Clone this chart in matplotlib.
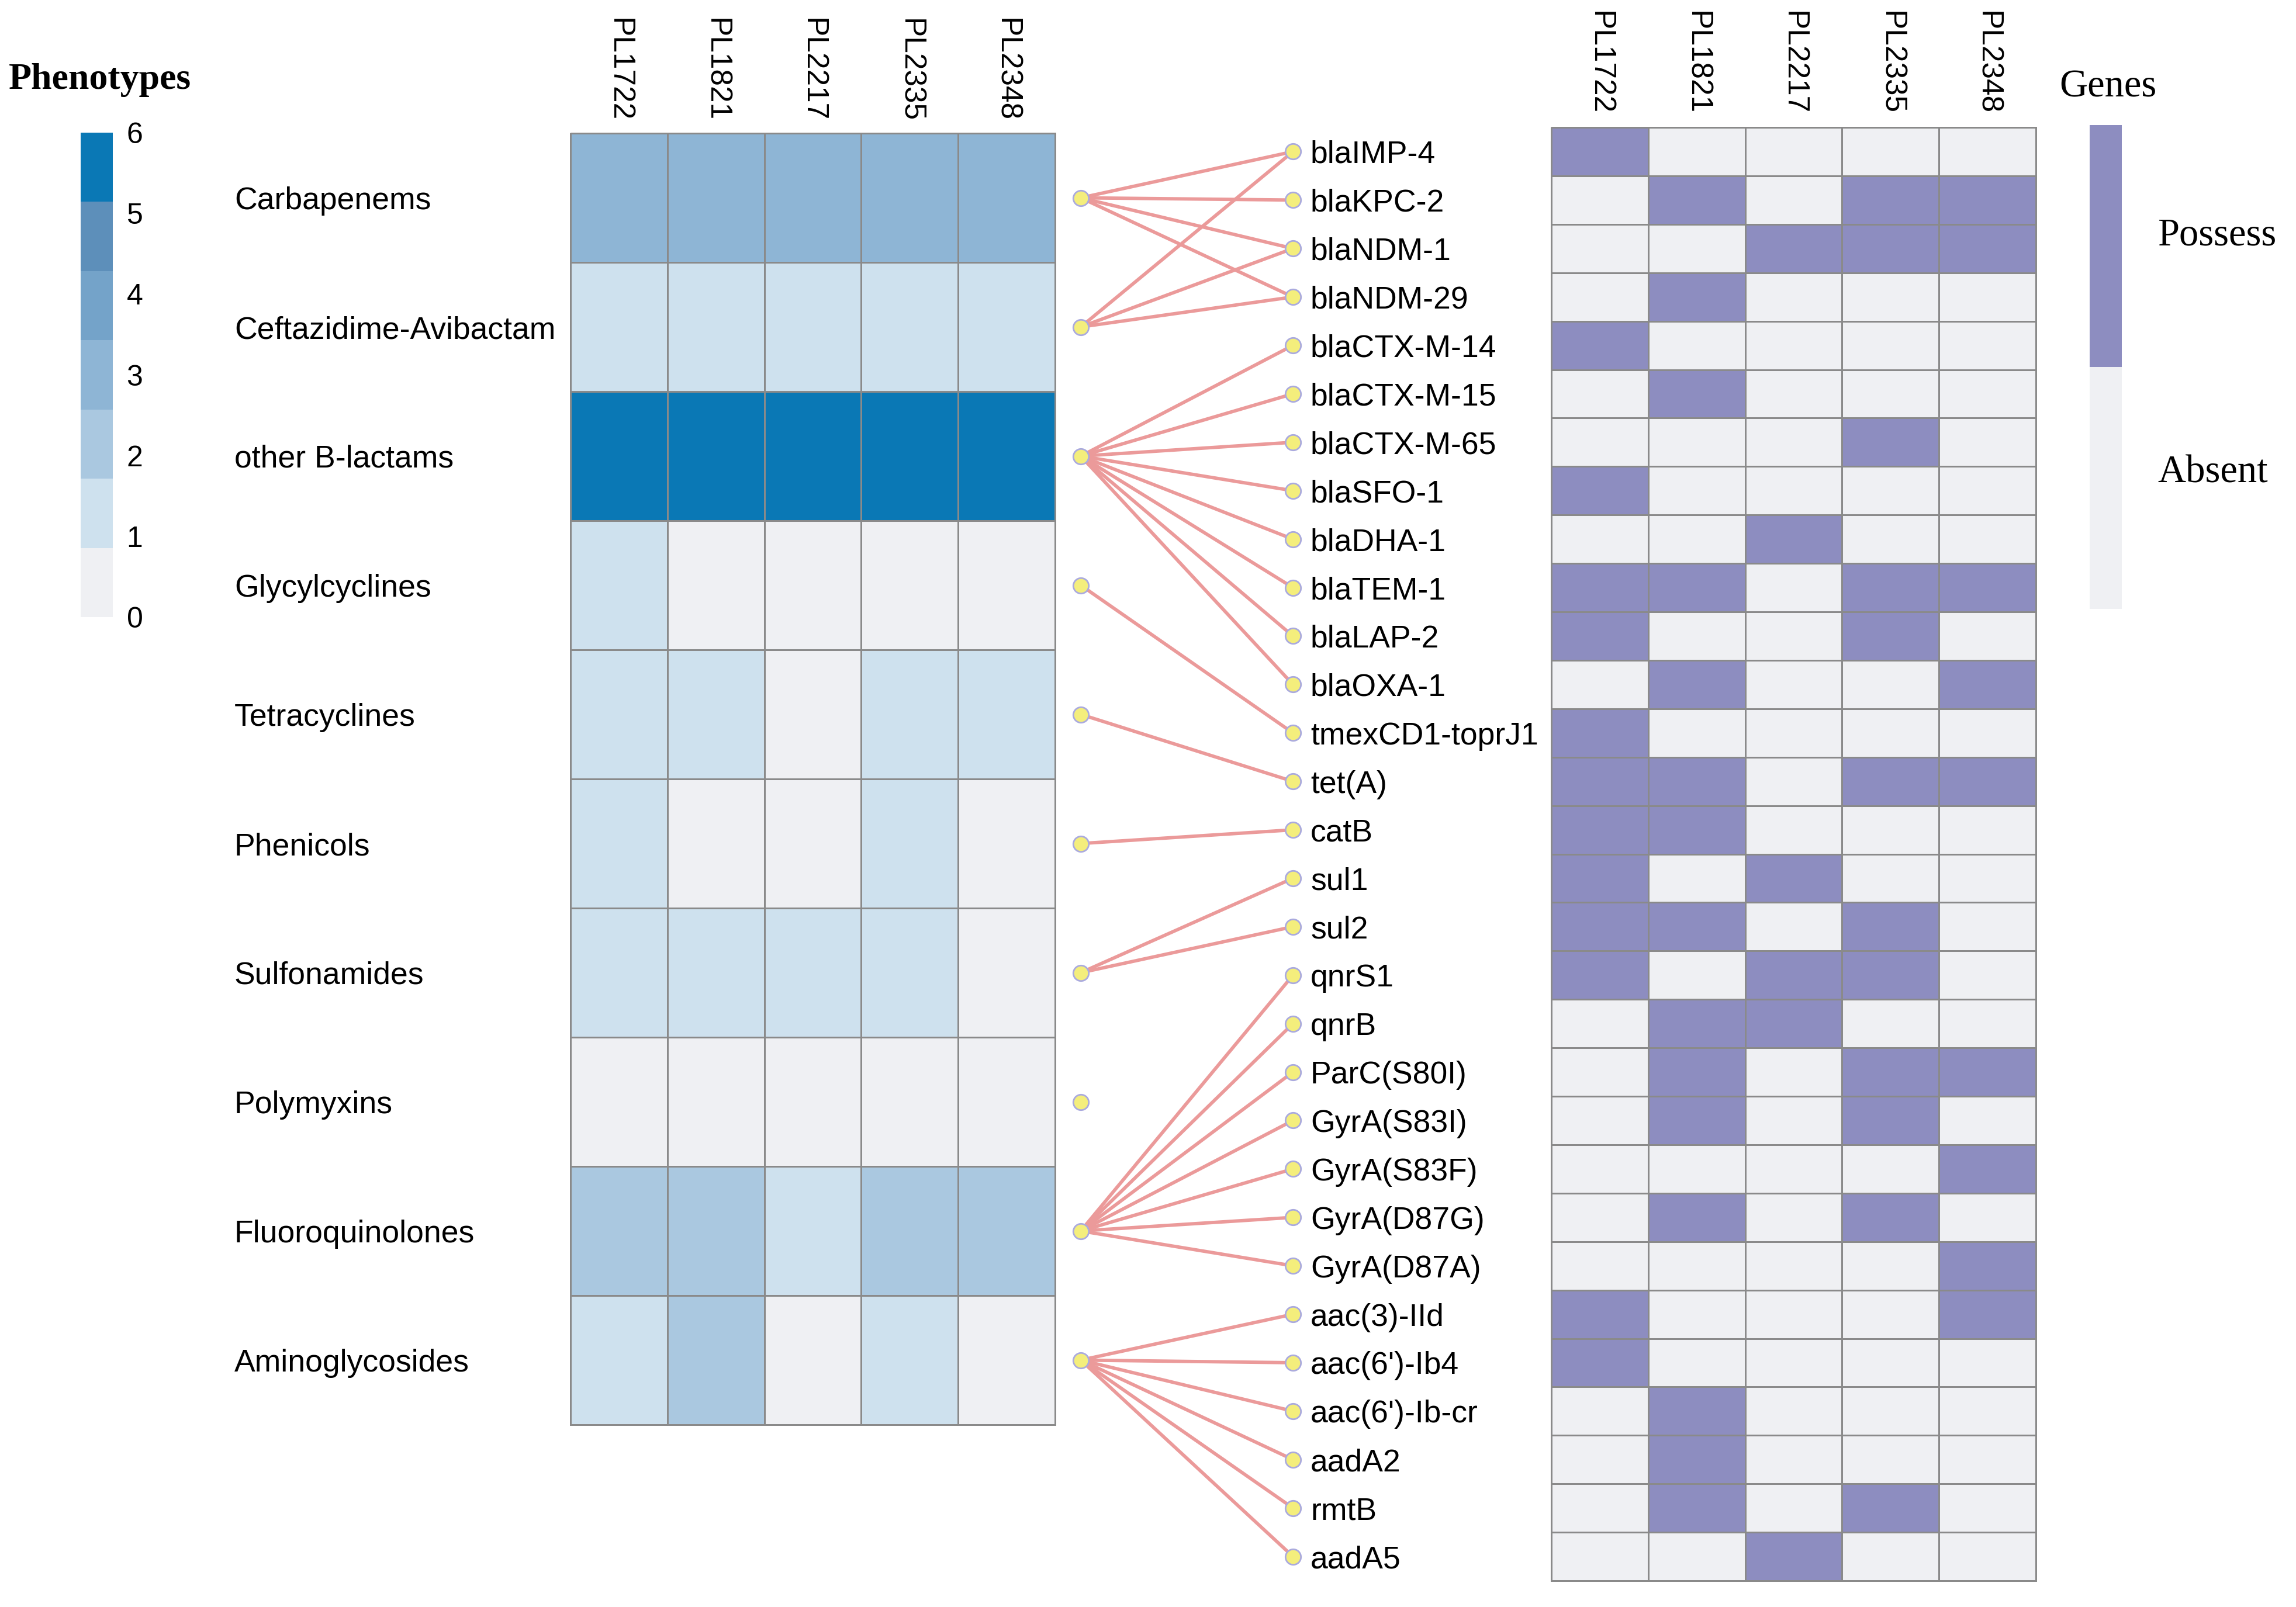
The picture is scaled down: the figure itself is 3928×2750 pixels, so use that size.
import numpy as np
import matplotlib
matplotlib.use('Agg')
import matplotlib.pyplot as plt
from matplotlib.colors import ListedColormap, BoundaryNorm

# data
isolates = ['PL1722', 'PL1821', 'PL2217', 'PL2335', 'PL2348']

phenotypes = ['Carbapenems', 'Ceftazidime-Avibactam', 'other B-lactams',
              'Glycylcyclines', 'Tetracyclines', 'Phenicols', 'Sulfonamides',
              'Polymyxins', 'Fluoroquinolones', 'Aminoglycosides']
pheno_values = [
    [3, 3, 3, 3, 3],
    [1, 1, 1, 1, 1],
    [6, 6, 6, 6, 6],
    [1, 0, 0, 0, 0],
    [1, 1, 0, 1, 1],
    [1, 0, 0, 1, 0],
    [1, 1, 1, 1, 0],
    [0, 0, 0, 0, 0],
    [2, 2, 1, 2, 2],
    [1, 2, 0, 1, 0],
]

genes = ['blaIMP-4', 'blaKPC-2', 'blaNDM-1', 'blaNDM-29', 'blaCTX-M-14',
         'blaCTX-M-15', 'blaCTX-M-65', 'blaSFO-1', 'blaDHA-1', 'blaTEM-1',
         'blaLAP-2', 'blaOXA-1', 'tmexCD1-toprJ1', 'tet(A)', 'catB', 'sul1',
         'sul2', 'qnrS1', 'qnrB', 'ParC(S80I)', 'GyrA(S83I)', 'GyrA(S83F)',
         'GyrA(D87G)', 'GyrA(D87A)', 'aac(3)-IId', "aac(6')-Ib4",
         "aac(6')-Ib-cr", 'aadA2', 'rmtB', 'aadA5']
gene_presence = [
    [1, 0, 0, 0, 0],
    [0, 1, 0, 1, 1],
    [0, 0, 1, 1, 1],
    [0, 1, 0, 0, 0],
    [1, 0, 0, 0, 0],
    [0, 1, 0, 0, 0],
    [0, 0, 0, 1, 0],
    [1, 0, 0, 0, 0],
    [0, 0, 1, 0, 0],
    [1, 1, 0, 1, 1],
    [1, 0, 0, 1, 0],
    [0, 1, 0, 0, 1],
    [1, 0, 0, 0, 0],
    [1, 1, 0, 1, 1],
    [1, 1, 0, 0, 0],
    [1, 0, 1, 0, 0],
    [1, 1, 0, 1, 0],
    [1, 0, 1, 1, 0],
    [0, 1, 1, 0, 0],
    [0, 1, 0, 1, 1],
    [0, 1, 0, 1, 0],
    [0, 0, 0, 0, 1],
    [0, 1, 0, 1, 0],
    [0, 0, 0, 0, 1],
    [1, 0, 0, 0, 1],
    [1, 0, 0, 0, 0],
    [0, 1, 0, 0, 0],
    [0, 1, 0, 0, 0],
    [0, 1, 0, 1, 0],
    [0, 0, 1, 0, 0],
]

links = {
    'Carbapenems': ['blaIMP-4', 'blaKPC-2', 'blaNDM-1', 'blaNDM-29'],
    'Ceftazidime-Avibactam': ['blaIMP-4', 'blaNDM-1', 'blaNDM-29'],
    'other B-lactams': ['blaCTX-M-14', 'blaCTX-M-15', 'blaCTX-M-65', 'blaSFO-1',
                        'blaDHA-1', 'blaTEM-1', 'blaLAP-2', 'blaOXA-1'],
    'Glycylcyclines': ['tmexCD1-toprJ1'],
    'Tetracyclines': ['tet(A)'],
    'Phenicols': ['catB'],
    'Sulfonamides': ['sul1', 'sul2'],
    'Polymyxins': [],
    'Fluoroquinolones': ['qnrS1', 'qnrB', 'ParC(S80I)', 'GyrA(S83I)',
                         'GyrA(S83F)', 'GyrA(D87G)', 'GyrA(D87A)'],
    'Aminoglycosides': ['aac(3)-IId', "aac(6')-Ib4", "aac(6')-Ib-cr",
                        'aadA2', 'rmtB', 'aadA5'],
}

legend_ticks = [0, 1, 2, 3, 4, 5, 6]

# styling
blue_colors = ['#eff0f3', '#cee1ee', '#aac8e0', '#8eb5d5', '#74a3c9', '#5d8fba', '#0a78b5']
gene_colors = ['#eff0f3', '#8d8dc0']
grid_col = '#8a8a8a'
sans = 'Liberation Sans'
serif = 'Liberation Serif'

W, H = 3928, 2750
fig = plt.figure(figsize=(W / 100, H / 100), dpi=100)


def px_rect(x, y, w, h):
    return [x / W, 1 - (y + h) / H, w / W, h / H]


# phenotype heatmap
pheno_cmap = ListedColormap(blue_colors)
pheno_norm = BoundaryNorm(np.arange(-0.5, 7.5, 1), pheno_cmap.N)
ax_l = fig.add_axes(px_rect(976, 228, 829, 2210))
m = ax_l.pcolormesh(np.array(pheno_values), cmap=pheno_cmap, norm=pheno_norm,
                    edgecolors=grid_col, linewidth=2)
m.set_clip_on(False)
ax_l.set_xlim(0, len(isolates))
ax_l.set_ylim(len(phenotypes), 0)
ax_l.xaxis.tick_top()
ax_l.set_xticks(np.arange(len(isolates)) + 0.5)
ax_l.set_xticklabels(isolates, rotation=-90, va='bottom', ha='center',
                     fontsize=37, family=sans)
ax_l.set_yticks(np.arange(len(phenotypes)) + 0.5)
ax_l.set_yticklabels(phenotypes, fontsize=38.5, family=sans, ha='left')
ax_l.tick_params(axis='x', length=0, pad=14)
ax_l.tick_params(axis='y', length=0, pad=(976 - 401) * 0.72)
for s in ax_l.spines.values():
    s.set_visible(False)

# gene heatmap
gene_cmap = ListedColormap(gene_colors)
ax_r = fig.add_axes(px_rect(2654, 218, 829, 2487))
m2 = ax_r.pcolormesh(np.array(gene_presence), cmap=gene_cmap, vmin=0, vmax=1,
                     edgecolors=grid_col, linewidth=2)
m2.set_clip_on(False)
ax_r.set_xlim(0, len(isolates))
ax_r.set_ylim(len(genes), 0)
ax_r.xaxis.tick_top()
ax_r.set_xticks(np.arange(len(isolates)) + 0.5)
ax_r.set_xticklabels(isolates, rotation=-90, va='bottom', ha='center',
                     fontsize=37, family=sans)
ax_r.set_yticks(np.arange(len(genes)) + 0.5)
ax_r.set_yticklabels(genes, fontsize=38.5, family=sans, ha='left')
ax_r.tick_params(axis='x', length=0, pad=16)
ax_r.tick_params(axis='y', length=0, pad=(2654 - 2242) * 0.72)
for s in ax_r.spines.values():
    s.set_visible(False)

# phenotype legend
ax_pl = fig.add_axes(px_rect(138, 227, 55, 829))
ax_pl.pcolormesh([0, 1], np.linspace(0, 6, 8), np.array(legend_ticks).reshape(-1, 1),
                 cmap=pheno_cmap, norm=pheno_norm)
ax_pl.set_ylim(0, 6)
ax_pl.set_xticks([])
ax_pl.yaxis.tick_right()
ax_pl.set_yticks(legend_ticks)
ax_pl.set_yticklabels([str(t) for t in legend_ticks], fontsize=36, family=sans)
ax_pl.tick_params(axis='y', length=0, pad=17)
for s in ax_pl.spines.values():
    s.set_visible(False)
fig.text(15 / W, 1 - 137 / H, 'Phenotypes', family=serif, fontweight='bold',
         fontsize=46, ha='left', va='center')

# gene legend
ax_gl = fig.add_axes(px_rect(3575, 214, 55, 828))
ax_gl.pcolormesh([0, 1], [0, 1, 2], np.array([[0], [1]]), cmap=gene_cmap, vmin=0, vmax=1)
ax_gl.set_ylim(0, 2)
ax_gl.set_xticks([])
ax_gl.yaxis.tick_right()
ax_gl.set_yticks([0.58, 1.56])
ax_gl.set_yticklabels(['Absent', 'Possess'], fontsize=48, family=serif)
ax_gl.tick_params(axis='y', length=0, pad=44)
for s in ax_gl.spines.values():
    s.set_visible(False)
fig.text(3523 / W, 1 - 149 / H, 'Genes', family=serif, fontsize=48,
         ha='left', va='center')

# network between the two heatmaps
ax_n = fig.add_axes([0, 0, 1, 1])
ax_n.set_xlim(0, W)
ax_n.set_ylim(0, H)
ax_n.axis('off')

left_x, right_x = 1849, 2212
pheno_y = {p: ax_l.transData.transform((0, i + 0.5))[1] for i, p in enumerate(phenotypes)}
gene_y = {g: ax_r.transData.transform((0, i + 0.5))[1] for i, g in enumerate(genes)}

for p, targets in links.items():
    for g in targets:
        ax_n.plot([left_x, right_x], [pheno_y[p], gene_y[g]], color='#eb9a9a',
                  lw=4.2, solid_capstyle='round', zorder=1)

node_kw = dict(ls='none', marker='o', ms=19, mfc='#f4ee7c', mec='#aaaade', mew=2, zorder=3)
ax_n.plot([left_x] * len(phenotypes), [pheno_y[p] for p in phenotypes], **node_kw)
ax_n.plot([right_x] * len(genes), [gene_y[g] for g in genes], **node_kw)

fig.savefig('out.png', dpi=100, facecolor='white')
